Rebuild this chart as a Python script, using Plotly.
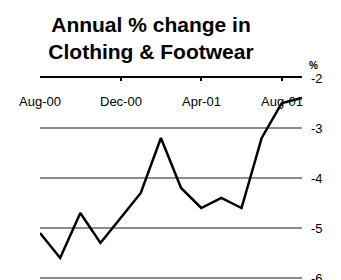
import plotly.graph_objects as go

months = ["Aug-00", "Sep-00", "Oct-00", "Nov-00", "Dec-00", "Jan-01", "Feb-01",
          "Mar-01", "Apr-01", "May-01", "Jun-01", "Jul-01", "Aug-01", "Sep-01"]
values = [-5.1, -5.6, -4.7, -5.3, -4.8, -4.3, -3.2,
          -4.2, -4.6, -4.4, -4.6, -3.2, -2.5, -2.4]
x_ticks = ["Aug-00", "Dec-00", "Apr-01", "Aug-01"]
y_ticks = [-2, -3, -4, -5, -6]
y_tick_labels = ["-2", "-3", "-4", "-5", "-6"]

FONT = "Liberation Sans, Arial, sans-serif"

fig = go.Figure()
fig.add_trace(go.Scatter(x=months, y=values, mode="lines",
                         line=dict(color="black", width=2.5), showlegend=False))

annotations = [dict(text="<b>%</b>", xref="paper", yref="paper", x=1.044, y=1.062,
                    showarrow=False, font=dict(size=10), xanchor="center",
                    yanchor="middle")]
for lab in x_ticks:
    annotations.append(dict(text=lab, x=lab, xref="x", y=1, yref="paper",
                            yanchor="middle", xanchor="center", yshift=-23,
                            showarrow=False, font=dict(size=13)))

# the page body has an 8px default margin, so the figure is sized/offset to compensate
fig.update_layout(
    width=333, height=272,
    margin=dict(l=32, r=39, t=70, b=0),
    paper_bgcolor="white", plot_bgcolor="white",
    font=dict(family=FONT, size=13, color="black"),
    title=dict(text="<b>Annual % change in<br>Clothing & Footwear</b>",
               x=0.4294, xanchor="center", y=0.9136, yanchor="top",
               font=dict(family=FONT, size=21, color="black")),
    xaxis=dict(type="category", categoryorder="array", categoryarray=months,
               range=[0, len(months) - 1], automargin=False,
               side="top", showline=True, linecolor="black", linewidth=2,
               ticks="inside", ticklen=3, tickwidth=2, tickcolor="black",
               tickmode="array", tickvals=x_ticks, ticktext=[""] * len(x_ticks),
               showgrid=False, zeroline=False),
    yaxis=dict(range=[-6.04, -2], side="right", showgrid=True, gridcolor="#8c8c8c",
               gridwidth=2, zeroline=False, showline=False, ticks="",
               automargin=False, ticklabelstandoff=8, ticklabeloverflow="allow",
               tickmode="array", tickvals=y_ticks, ticktext=y_tick_labels,
               tickfont=dict(size=13)),
    annotations=annotations,
)

fig.write_html("out.html")
